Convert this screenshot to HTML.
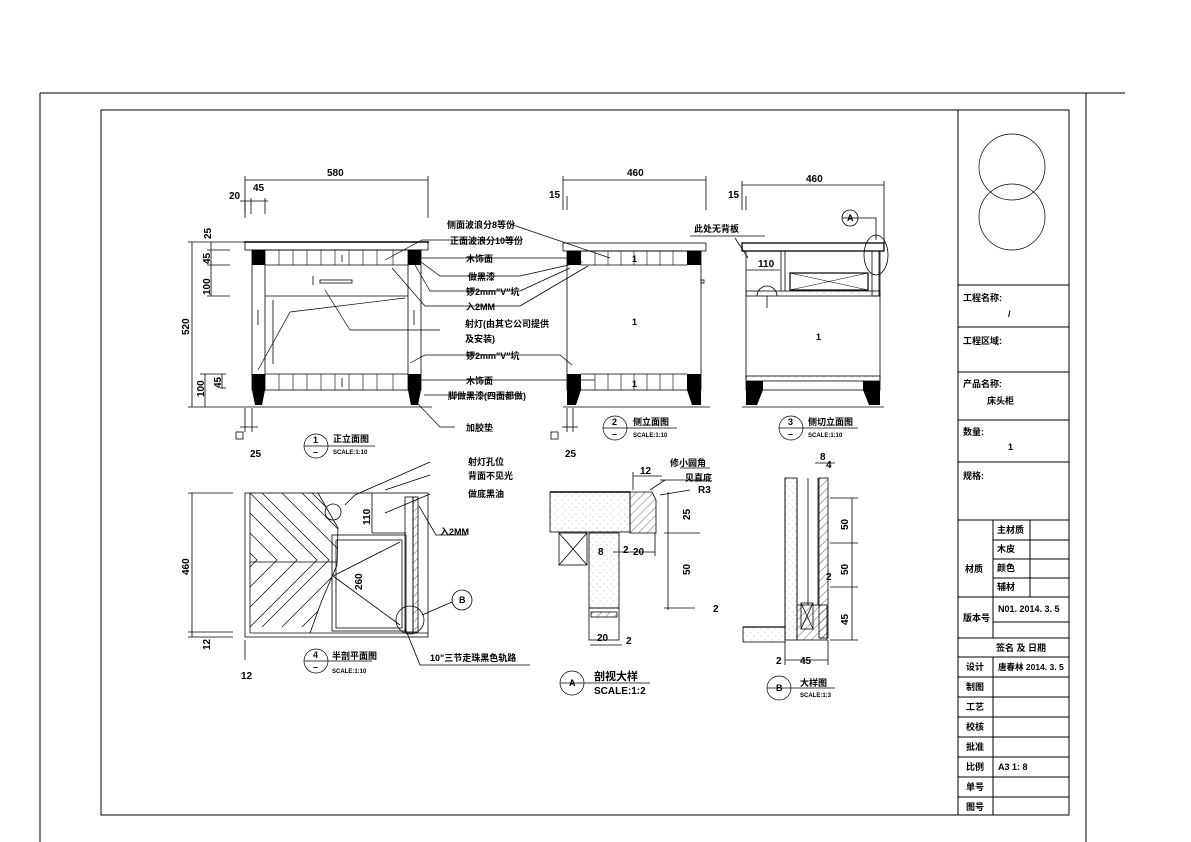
<!DOCTYPE html>
<html><head><meta charset="utf-8"><style>
html,body{margin:0;padding:0;background:#fff}
svg{display:block}
text{font-family:"Liberation Sans","Noto Sans CJK SC",sans-serif;font-weight:bold;fill:#000}
.t{font-size:9px}
.s{font-size:6px}
.d{font-size:10px;font-family:"Liberation Sans Narrow","Liberation Sans",sans-serif}
</style></head><body>
<svg width="1191" height="842" viewBox="0 0 1191 842" xmlns="http://www.w3.org/2000/svg">
<defs>
<pattern id="h" width="6" height="6" patternUnits="userSpaceOnUse" patternTransform="rotate(45)"><line x1="0" y1="0" x2="0" y2="6" stroke="#000" stroke-width="0.6"/></pattern>
<pattern id="dot" width="7" height="7" patternUnits="userSpaceOnUse"><circle cx="2" cy="3" r="0.4" fill="#555"/><circle cx="5" cy="6" r="0.4" fill="#555"/></pattern>
<clipPath id="cv"><polygon points="250,493 318,493 338,528 337,565 322,600 310,633 250,633"/></clipPath>
</defs>
<g fill="none" stroke="#000" stroke-width="1">
<line x1="40" y1="93" x2="1125" y2="93"/>
<line x1="40" y1="93" x2="40" y2="842"/>
<line x1="1086" y1="93" x2="1086" y2="842"/>
<rect x="101" y="110" width="968" height="705"/>
<line x1="958" y1="110" x2="958" y2="815"/>
<circle cx="1012" cy="167" r="33" stroke-width="0.7"/>
<circle cx="1012" cy="217" r="33" stroke-width="0.7"/>
<line x1="958" y1="285" x2="1069" y2="285"/>
<line x1="958" y1="327" x2="1069" y2="327"/>
<line x1="958" y1="372" x2="1069" y2="372"/>
<line x1="958" y1="420" x2="1069" y2="420"/>
<line x1="958" y1="462" x2="1069" y2="462"/>
<line x1="958" y1="520" x2="1069" y2="520"/>
<line x1="993" y1="520" x2="993" y2="638"/>
<line x1="1030" y1="520" x2="1030" y2="597"/>
<line x1="993" y1="540" x2="1069" y2="540"/>
<line x1="993" y1="559" x2="1069" y2="559"/>
<line x1="993" y1="578" x2="1069" y2="578"/>
<line x1="958" y1="597" x2="1069" y2="597"/>
<line x1="993" y1="622" x2="1069" y2="622"/>
<line x1="958" y1="638" x2="1069" y2="638"/>
<line x1="958" y1="657" x2="1069" y2="657"/>
<line x1="958" y1="677" x2="1069" y2="677"/>
<line x1="958" y1="697" x2="1069" y2="697"/>
<line x1="958" y1="717" x2="1069" y2="717"/>
<line x1="958" y1="737" x2="1069" y2="737"/>
<line x1="958" y1="757" x2="1069" y2="757"/>
<line x1="958" y1="777" x2="1069" y2="777"/>
<line x1="958" y1="797" x2="1069" y2="797"/>
<line x1="993" y1="657" x2="993" y2="815"/>
</g>
<g class="t">
<text x="963" y="301">工程名称:</text><text x="1008" y="317">/</text>
<text x="963" y="344">工程区域:</text>
<text x="963" y="387">产品名称:</text><text x="987" y="404">床头柜</text>
<text x="963" y="435">数量:</text><text x="1008" y="450">1</text>
<text x="963" y="479">规格:</text>
<text x="997" y="533">主材质</text><text x="997" y="552">木皮</text><text x="997" y="571">颜色</text><text x="997" y="590">辅材</text>
<text x="965" y="572">材质</text>
<text x="963" y="621">版本号</text><text x="998" y="612">N01. 2014. 3. 5</text>
<text x="996" y="651">签名 及 日期</text>
<text x="966" y="670">设计</text><text x="998" y="670" style="font-size:8.5px">唐春林 2014. 3. 5</text>
<text x="966" y="690">制图</text><text x="966" y="710">工艺</text><text x="966" y="730">校核</text>
<text x="966" y="750">批准</text><text x="966" y="770">比例</text><text x="998" y="770">A3 1: 8</text>
<text x="966" y="790">单号</text><text x="966" y="810">图号</text>
</g>

<!-- VIEW 1 -->
<g fill="none" stroke="#000" stroke-width="0.8">
<line x1="245" y1="180" x2="428" y2="180"/><line x1="245" y1="176" x2="245" y2="218"/><line x1="428" y1="176" x2="428" y2="218"/>
<line x1="240" y1="201" x2="268" y2="201"/><line x1="245" y1="201" x2="245" y2="214"/><line x1="251" y1="198" x2="251" y2="214"/><line x1="265" y1="198" x2="265" y2="214"/>
<line x1="192" y1="242" x2="192" y2="407"/>
<line x1="188" y1="242" x2="245" y2="242"/><line x1="188" y1="407" x2="240" y2="407"/>
<line x1="211" y1="242" x2="211" y2="296"/><line x1="207" y1="250" x2="230" y2="250"/><line x1="207" y1="265" x2="230" y2="265"/><line x1="207" y1="296" x2="230" y2="296"/>
<line x1="205" y1="374" x2="205" y2="407"/><line x1="200" y1="374" x2="226" y2="374"/><line x1="220" y1="388" x2="226" y2="388"/><line x1="222" y1="374" x2="222" y2="388"/>
<rect x="245" y="242" width="183" height="8"/>
<line x1="244" y1="242" x2="429" y2="242" stroke-width="1.5"/>
<rect x="252" y="250" width="169" height="140"/>
<line x1="265" y1="265" x2="408" y2="265"/><line x1="265" y1="296" x2="408" y2="296"/>
<line x1="265" y1="250" x2="265" y2="390"/><line x1="408" y1="250" x2="408" y2="390"/>
<g stroke-width="0.6"><line x1="279" y1="250" x2="279" y2="265"/><line x1="293" y1="250" x2="293" y2="265"/><line x1="307" y1="250" x2="307" y2="265"/><line x1="321" y1="250" x2="321" y2="265"/><line x1="335" y1="250" x2="335" y2="265"/><line x1="349" y1="250" x2="349" y2="265"/><line x1="363" y1="250" x2="363" y2="265"/><line x1="377" y1="250" x2="377" y2="265"/><line x1="393" y1="250" x2="393" y2="265"/>
<line x1="279" y1="374" x2="279" y2="390"/><line x1="293" y1="374" x2="293" y2="390"/><line x1="307" y1="374" x2="307" y2="390"/><line x1="321" y1="374" x2="321" y2="390"/><line x1="335" y1="374" x2="335" y2="390"/><line x1="349" y1="374" x2="349" y2="390"/><line x1="363" y1="374" x2="363" y2="390"/><line x1="377" y1="374" x2="377" y2="390"/><line x1="393" y1="374" x2="393" y2="390"/></g>
<line x1="265" y1="374" x2="408" y2="374"/>
<rect x="320" y="280" width="32" height="3"/>
<line x1="273" y1="300" x2="273" y2="364"/>
<line x1="240" y1="407" x2="432" y2="407"/>
<line x1="245" y1="408" x2="245" y2="432"/><line x1="252" y1="408" x2="252" y2="432"/><line x1="240" y1="427" x2="258" y2="427"/>
<rect x="236" y="432" width="7" height="7"/>
<line x1="258" y1="310" x2="258" y2="325"/><line x1="414" y1="310" x2="414" y2="325"/><line x1="313" y1="276" x2="313" y2="285"/><line x1="342" y1="255" x2="342" y2="262"/><line x1="342" y1="378" x2="342" y2="387"/>
</g>
<g fill="#000"><rect x="252" y="250" width="13" height="15"/><rect x="408" y="250" width="13" height="15"/>
<polygon points="252,374 265,374 265,390 262,405 255,405 252,390"/><polygon points="408,374 421,374 421,390 418,405 411,405 408,390"/></g>
<text class="d" x="327" y="176">580</text><text class="d" x="229" y="199">20</text><text class="d" x="253" y="191">45</text>
<text class="d" transform="translate(211 239) rotate(-90)">25</text>
<text class="d" transform="translate(210 264) rotate(-90)">45</text>
<text class="d" transform="translate(210 295) rotate(-90)">100</text>
<text class="d" transform="translate(189 335) rotate(-90)">520</text>
<text class="d" transform="translate(204 397) rotate(-90)">100</text>
<text class="d" transform="translate(221 388) rotate(-90)">45</text>
<text class="d" x="250" y="457">25</text>
<g fill="none" stroke="#000" stroke-width="0.7">
<line x1="422" y1="240" x2="520" y2="240"/><line x1="422" y1="240" x2="385" y2="260"/>
<line x1="412" y1="258" x2="520" y2="258"/>
<polyline points="421,262 440,276 520,276"/>
<polyline points="415,265 430,291 520,291"/>
<polyline points="392,268 425,306 520,306"/>
<polyline points="325,290 350,330 440,330"/>
<polyline points="405,298 290,312 258,370"/>
<polyline points="410,363 425,355 520,355"/>
<line x1="420" y1="380" x2="520" y2="380"/>
<line x1="424" y1="395" x2="520" y2="395"/>
<polyline points="418,404 440,427 455,427"/>
<line x1="510" y1="224" x2="610" y2="258"/>
</g>
<g class="t">
<text x="447" y="228">侧面波浪分8等份</text><text x="450" y="244">正面波浪分10等份</text>
<text x="466" y="262">木饰面</text><text x="468" y="280">做黑漆</text><text x="466" y="295">锣2mm"V"坑</text>
<text x="466" y="310">入2MM</text><text x="465" y="327">射灯(由其它公司提供</text><text x="465" y="342">及安装)</text>
<text x="466" y="359">锣2mm"V"坑</text><text x="466" y="384">木饰面</text><text x="448" y="399">脚做黑漆(四面都做)</text>
<text x="466" y="431">加胶垫</text>
</g>
<circle cx="316" cy="446" r="12" fill="none" stroke="#000" stroke-width="0.7"/><line x1="304" y1="446" x2="375" y2="446" stroke="#000" stroke-width="0.7"/>
<text class="t" x="313" y="443">1</text><text class="t" x="313" y="455">–</text>
<text class="t" x="333" y="442">正立面图</text><text class="s" x="333" y="454">SCALE:1:10</text>

<!-- VIEW 2 -->
<g fill="none" stroke="#000" stroke-width="0.8">
<line x1="563" y1="180" x2="706" y2="180"/><line x1="563" y1="176" x2="563" y2="210"/><line x1="706" y1="176" x2="706" y2="210"/><line x1="567" y1="196" x2="567" y2="210"/>
<rect x="563" y="243" width="143" height="8"/>
<rect x="567" y="251" width="134" height="139"/>
<line x1="581" y1="265" x2="687" y2="265"/><line x1="581" y1="374" x2="687" y2="374"/>
<g stroke-width="0.6"><line x1="595" y1="251" x2="595" y2="265"/><line x1="608" y1="251" x2="608" y2="265"/><line x1="621" y1="251" x2="621" y2="265"/><line x1="634" y1="251" x2="634" y2="265"/><line x1="647" y1="251" x2="647" y2="265"/><line x1="660" y1="251" x2="660" y2="265"/><line x1="673" y1="251" x2="673" y2="265"/>
<line x1="595" y1="374" x2="595" y2="390"/><line x1="608" y1="374" x2="608" y2="390"/><line x1="621" y1="374" x2="621" y2="390"/><line x1="634" y1="374" x2="634" y2="390"/><line x1="647" y1="374" x2="647" y2="390"/><line x1="660" y1="374" x2="660" y2="390"/><line x1="673" y1="374" x2="673" y2="390"/></g>
<rect x="701" y="280" width="3" height="3"/>
<line x1="563" y1="407" x2="710" y2="407"/>
<line x1="567" y1="408" x2="567" y2="432"/><line x1="573" y1="408" x2="573" y2="432"/><line x1="562" y1="427" x2="578" y2="427"/>
<rect x="551" y="432" width="7" height="7"/>
<line x1="520" y1="258" x2="570" y2="258"/><line x1="520" y1="276" x2="582" y2="262"/><line x1="520" y1="291" x2="570" y2="268"/><line x1="520" y1="306" x2="588" y2="266"/>
<line x1="520" y1="355" x2="560" y2="355"/><line x1="560" y1="355" x2="572" y2="365"/><line x1="520" y1="380" x2="595" y2="380"/>
</g>
<g fill="#000"><rect x="567" y="251" width="14" height="14"/><rect x="687" y="251" width="14" height="14"/>
<polygon points="567,374 581,374 581,390 576,405 567,405"/><polygon points="687,374 701,374 701,405 692,405 687,390"/></g>
<text class="d" x="627" y="176">460</text><text class="d" x="549" y="198">15</text><text class="d" x="565" y="457">25</text>
<text class="t" x="632" y="262">1</text><text class="t" x="632" y="387">1</text><text class="t" x="632" y="325">1</text>
<circle cx="615" cy="428" r="12" fill="none" stroke="#000" stroke-width="0.7"/><line x1="603" y1="428" x2="677" y2="428" stroke="#000" stroke-width="0.7"/>
<text class="t" x="612" y="425">2</text><text class="t" x="612" y="437">–</text>
<text class="t" x="633" y="425">侧立面图</text><text class="s" x="633" y="437">SCALE:1:10</text>

<!-- VIEW 3 -->
<g fill="none" stroke="#000" stroke-width="0.8">
<line x1="742" y1="185" x2="884" y2="185"/><line x1="742" y1="181" x2="742" y2="210"/><line x1="884" y1="181" x2="884" y2="245"/><line x1="746" y1="196" x2="746" y2="210"/>
<rect x="742" y="243" width="142" height="8" stroke-width="1.3"/>
<rect x="746" y="251" width="134" height="139"/>
<rect x="746" y="291" width="134" height="5" fill="url(#dot)"/>
<line x1="781" y1="251" x2="781" y2="291"/><line x1="785" y1="251" x2="785" y2="291"/>
<rect x="790" y="273" width="78" height="17" stroke-width="1.2"/>
<line x1="790" y1="273" x2="868" y2="290" stroke-width="0.5"/><line x1="790" y1="290" x2="868" y2="273" stroke-width="0.5"/>
<rect x="872" y="251" width="7" height="45"/>
<rect x="746" y="376" width="134" height="5" fill="url(#dot)"/>
<line x1="742" y1="407" x2="884" y2="407"/>
<path d="M757 296 a10 10 0 0 1 20 0"/><line x1="767" y1="296" x2="767" y2="308"/>
<circle cx="850" cy="218" r="8"/><line x1="842" y1="218" x2="858" y2="218"/><polyline points="858,218 876,218 876,240"/>
<ellipse cx="876" cy="255" rx="12" ry="20"/>
<line x1="690" y1="236" x2="765" y2="236"/><line x1="735" y1="238" x2="748" y2="258"/>
<line x1="746" y1="270" x2="780" y2="270"/>
</g>
<g fill="#000"><polygon points="746,381 763,381 763,390 757,405 746,405"/><polygon points="863,381 880,381 880,405 869,405 863,390"/></g>
<text class="d" x="806" y="182">460</text><text class="d" x="728" y="198">15</text><text class="d" x="758" y="267">110</text>
<text class="t" x="694" y="232">此处无背板</text><text class="t" x="847" y="221">A</text>
<text class="t" x="816" y="340">1</text>
<circle cx="791" cy="428" r="12" fill="none" stroke="#000" stroke-width="0.7"/><line x1="779" y1="428" x2="858" y2="428" stroke="#000" stroke-width="0.7"/>
<text class="t" x="788" y="425">3</text><text class="t" x="788" y="437">–</text>
<text class="t" x="808" y="425">侧切立面图</text><text class="s" x="808" y="437">SCALE:1:10</text>

<!-- VIEW 4 plan -->
<g fill="none" stroke="#000" stroke-width="0.8">
<line x1="192" y1="493" x2="192" y2="637"/><line x1="188" y1="493" x2="233" y2="493"/><line x1="188" y1="632" x2="233" y2="632"/><line x1="188" y1="637" x2="233" y2="637"/>
<line x1="245" y1="640" x2="245" y2="660"/>
<rect x="245" y="493" width="183" height="144"/>
<line x1="250" y1="493" x2="250" y2="633"/><line x1="250" y1="633" x2="428" y2="633"/>
<g clip-path="url(#cv)" stroke-width="0.7">
<polyline points="190,493 257,560 190,627"/><polyline points="210,493 277,560 210,627"/><polyline points="230,493 297,560 230,627"/>
<polyline points="250,493 317,560 250,627"/><polyline points="262,493 329,560 262,627"/><polyline points="282,493 349,560 282,627"/>
<polyline points="302,493 369,560 302,627"/><polyline points="312,493 379,560 312,627"/>
<line x1="250" y1="562" x2="340" y2="562"/>
</g>
<polyline points="318,493 338,528 337,565 322,600 310,633"/>
<rect x="336" y="540" width="66" height="88"/><rect x="332" y="535" width="74" height="96"/>
<line x1="372" y1="493" x2="372" y2="533"/><line x1="372" y1="533" x2="406" y2="533"/>
<rect x="405" y="497" width="8" height="135"/><rect x="413" y="497" width="5" height="135" fill="url(#h)"/>
<circle cx="333" cy="512" r="8"/>
<line x1="333" y1="576" x2="400" y2="625"/><line x1="333" y1="576" x2="400" y2="542"/>
<circle cx="410" cy="620" r="14"/>
<circle cx="462" cy="600" r="10"/><line x1="452" y1="602" x2="422" y2="615"/>
<polyline points="430,462 355,495 345,505"/><polyline points="430,475 385,490"/>
<polyline points="430,494 385,513"/>
<polyline points="419,506 436,535 467,535"/>
<polyline points="405,628 420,665 530,665"/>
</g>
<text class="d" transform="translate(189 575) rotate(-90)">460</text>
<text class="d" transform="translate(370 525) rotate(-90)">110</text>
<text class="d" transform="translate(362 590) rotate(-90)">260</text>
<text class="d" transform="translate(210 650) rotate(-90)">12</text>
<text class="d" x="241" y="679">12</text>
<text class="t" x="459" y="603">B</text>
<g class="t"><text x="468" y="465">射灯孔位</text><text x="468" y="479">背面不见光</text><text x="468" y="497">做底黑油</text><text x="440" y="535">入2MM</text><text x="430" y="661">10"三节走珠黑色轨路</text></g>
<circle cx="316" cy="661" r="12" fill="none" stroke="#000" stroke-width="0.7"/><line x1="304" y1="661" x2="372" y2="661" stroke="#000" stroke-width="0.7"/>
<text class="t" x="313" y="658">4</text><text class="t" x="313" y="670">–</text>
<text class="t" x="332" y="659">半剖平面图</text><text class="s" x="332" y="673">SCALE:1:10</text>

<!-- Detail A -->
<g fill="none" stroke="#000" stroke-width="0.8">
<rect x="550" y="492" width="80" height="40" fill="url(#dot)"/>
<line x1="550" y1="492" x2="630" y2="492" stroke-width="1.5"/>
<polygon points="630,492 652,492 656,500 656,533 630,533" fill="url(#h)"/>
<rect x="559" y="533" width="28" height="32"/><line x1="559" y1="533" x2="587" y2="565"/><line x1="587" y1="533" x2="559" y2="565"/>
<rect x="589" y="533" width="30" height="75" fill="url(#dot)"/>
<rect x="589" y="608" width="30" height="32"/><rect x="591" y="612" width="26" height="5" fill="url(#h)"/>
<line x1="590" y1="645" x2="622" y2="645"/>
<line x1="633" y1="476" x2="662" y2="476"/><line x1="633" y1="472" x2="633" y2="490"/>
<line x1="613" y1="552" x2="655" y2="552"/><line x1="655" y1="533" x2="655" y2="556"/>
<line x1="668" y1="492" x2="668" y2="610"/><line x1="664" y1="533" x2="700" y2="533"/><line x1="664" y1="608" x2="695" y2="608"/>
<line x1="680" y1="468" x2="710" y2="468"/><line x1="650" y1="490" x2="665" y2="480"/><line x1="660" y1="480" x2="710" y2="480"/><line x1="660" y1="495" x2="690" y2="490"/>
</g>
<text class="d" x="640" y="474">12</text><text class="d" x="633" y="555">20</text><text class="d" x="597" y="641">20</text><text class="d" x="626" y="644">2</text>
<text class="d" transform="translate(690 520) rotate(-90)">25</text><text class="d" transform="translate(690 575) rotate(-90)">50</text>
<text class="d" x="598" y="555">8</text><text class="d" x="623" y="553">2</text><text class="d" x="698" y="493">R3</text><text class="d" x="713" y="612">2</text>
<text class="t" x="670" y="466">修小圆角</text><text class="t" x="685" y="481">见直底</text>
<circle cx="572" cy="683" r="12" fill="none" stroke="#000" stroke-width="0.7"/><line x1="560" y1="683" x2="650" y2="683" stroke="#000" stroke-width="0.7"/>
<text class="t" x="569" y="686">A</text>
<text x="594" y="680" style="font-size:11px">剖视大样</text><text x="594" y="694" style="font-size:10px">SCALE:1:2</text>

<!-- Detail B -->
<g fill="none" stroke="#000" stroke-width="0.8">
<line x1="785" y1="478" x2="785" y2="640"/><line x1="797" y1="478" x2="797" y2="605"/><line x1="808" y1="478" x2="808" y2="605"/><line x1="818" y1="478" x2="818" y2="605"/>
<rect x="785" y="478" width="12" height="162" fill="url(#dot)"/>
<rect x="797" y="605" width="30" height="35" fill="url(#h)"/>
<rect x="819" y="478" width="9" height="160" fill="url(#h)"/>
<rect x="801" y="603" width="12" height="26"/><line x1="801" y1="603" x2="813" y2="629"/><line x1="813" y1="603" x2="801" y2="629"/>
<rect x="743" y="627" width="42" height="15" fill="url(#dot)"/>
<line x1="743" y1="627" x2="785" y2="627" stroke-width="1.3"/>
<line x1="852" y1="498" x2="852" y2="640"/>
<line x1="830" y1="498" x2="858" y2="498"/><line x1="830" y1="543" x2="858" y2="543"/><line x1="830" y1="587" x2="858" y2="587"/><line x1="830" y1="640" x2="858" y2="640"/>
<line x1="785" y1="660" x2="828" y2="660"/><line x1="785" y1="642" x2="785" y2="665"/><line x1="828" y1="640" x2="828" y2="665"/>
<line x1="815" y1="463" x2="835" y2="463"/>
</g>
<text class="d" x="820" y="460">8</text><text class="d" x="826" y="468">4</text>
<text class="d" transform="translate(848 530) rotate(-90)">50</text><text class="d" transform="translate(848 575) rotate(-90)">50</text><text class="d" transform="translate(848 625) rotate(-90)">45</text>
<text class="d" x="800" y="664">45</text><text class="d" x="776" y="664">2</text><text class="d" x="826" y="580">2</text>
<circle cx="779" cy="688" r="12" fill="none" stroke="#000" stroke-width="0.7"/><line x1="767" y1="688" x2="835" y2="688" stroke="#000" stroke-width="0.7"/>
<text class="t" x="776" y="691">B</text>
<text class="t" x="800" y="686">大样图</text><text class="s" x="800" y="697">SCALE:1:3</text>
</svg>
</body></html>
